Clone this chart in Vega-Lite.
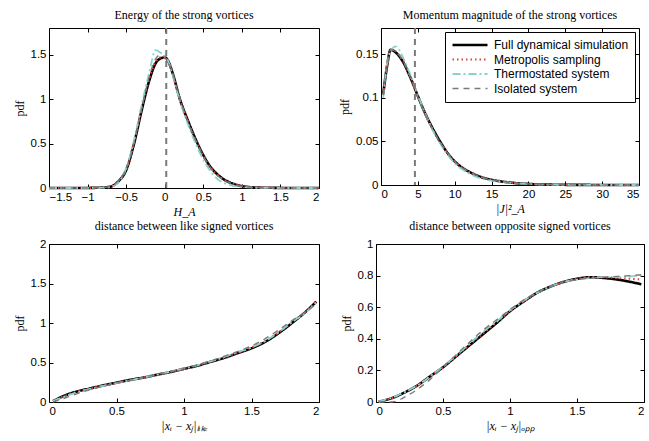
{
  "$schema": "https://vega.github.io/schema/vega-lite/v6.json",
  "padding": {"left": 12, "top": 8, "right": 2, "bottom": 2},
  "background": "white",
  "config": {
    "view": {"stroke": "black", "strokeWidth": 1},
    "axis": {"domain": false, "grid": false, "tickColor": "black", "tickSize": -4, "labelFont": "Liberation Sans", "labelFontSize": 11.5, "labelColor": "black", "labelPadding": 7, "titleFont": "Liberation Serif", "titleFontWeight": "normal", "titleFontSize": 12, "titleColor": "black", "titlePadding": 4},
    "title": {"font": "Liberation Serif", "fontSize": 12, "fontWeight": "normal", "color": "black", "offset": 5},
    "legend": {"labelFont": "Liberation Sans", "labelFontSize": 12, "labelColor": "black"}
  },
  "datasets": {
    "energy": [
      {"x": -1.5, "Full dynamical simulation": 0, "Metropolis sampling": 0, "Thermostated system": 0, "Isolated system": 0},
      {"x": -1.3, "Full dynamical simulation": 0, "Metropolis sampling": 0, "Thermostated system": 0, "Isolated system": 0},
      {"x": -1.1, "Full dynamical simulation": 0, "Metropolis sampling": 0, "Thermostated system": 0, "Isolated system": 0.001},
      {"x": -0.9, "Full dynamical simulation": 0.002, "Metropolis sampling": 0.002, "Thermostated system": 0.001, "Isolated system": 0.002},
      {"x": -0.8, "Full dynamical simulation": 0.005, "Metropolis sampling": 0.006, "Thermostated system": 0.004, "Isolated system": 0.006},
      {"x": -0.7, "Full dynamical simulation": 0.015, "Metropolis sampling": 0.018, "Thermostated system": 0.012, "Isolated system": 0.02},
      {"x": -0.6, "Full dynamical simulation": 0.075, "Metropolis sampling": 0.08, "Thermostated system": 0.065, "Isolated system": 0.08},
      {"x": -0.5, "Full dynamical simulation": 0.2, "Metropolis sampling": 0.21, "Thermostated system": 0.22, "Isolated system": 0.21},
      {"x": -0.4, "Full dynamical simulation": 0.49, "Metropolis sampling": 0.5, "Thermostated system": 0.53, "Isolated system": 0.5},
      {"x": -0.3, "Full dynamical simulation": 0.87, "Metropolis sampling": 0.88, "Thermostated system": 0.93, "Isolated system": 0.89},
      {"x": -0.2, "Full dynamical simulation": 1.21, "Metropolis sampling": 1.23, "Thermostated system": 1.3, "Isolated system": 1.25},
      {"x": -0.12, "Full dynamical simulation": 1.4, "Metropolis sampling": 1.42, "Thermostated system": 1.55, "Isolated system": 1.45},
      {"x": -0.05, "Full dynamical simulation": 1.46, "Metropolis sampling": 1.47, "Thermostated system": 1.52, "Isolated system": 1.5},
      {"x": 0, "Full dynamical simulation": 1.47, "Metropolis sampling": 1.46, "Thermostated system": 1.49, "Isolated system": 1.47},
      {"x": 0.05, "Full dynamical simulation": 1.42, "Metropolis sampling": 1.41, "Thermostated system": 1.42, "Isolated system": 1.42},
      {"x": 0.1, "Full dynamical simulation": 1.3, "Metropolis sampling": 1.29, "Thermostated system": 1.28, "Isolated system": 1.3},
      {"x": 0.2, "Full dynamical simulation": 0.99, "Metropolis sampling": 0.99, "Thermostated system": 0.97, "Isolated system": 0.99},
      {"x": 0.3, "Full dynamical simulation": 0.76, "Metropolis sampling": 0.75, "Thermostated system": 0.72, "Isolated system": 0.75},
      {"x": 0.4, "Full dynamical simulation": 0.55, "Metropolis sampling": 0.54, "Thermostated system": 0.5, "Isolated system": 0.54},
      {"x": 0.5, "Full dynamical simulation": 0.37, "Metropolis sampling": 0.36, "Thermostated system": 0.32, "Isolated system": 0.36},
      {"x": 0.6, "Full dynamical simulation": 0.23, "Metropolis sampling": 0.22, "Thermostated system": 0.18, "Isolated system": 0.22},
      {"x": 0.7, "Full dynamical simulation": 0.14, "Metropolis sampling": 0.135, "Thermostated system": 0.09, "Isolated system": 0.13},
      {"x": 0.8, "Full dynamical simulation": 0.08, "Metropolis sampling": 0.078, "Thermostated system": 0.045, "Isolated system": 0.075},
      {"x": 0.9, "Full dynamical simulation": 0.045, "Metropolis sampling": 0.043, "Thermostated system": 0.022, "Isolated system": 0.04},
      {"x": 1.0, "Full dynamical simulation": 0.022, "Metropolis sampling": 0.022, "Thermostated system": 0.012, "Isolated system": 0.02},
      {"x": 1.1, "Full dynamical simulation": 0.01, "Metropolis sampling": 0.01, "Thermostated system": 0.006, "Isolated system": 0.01},
      {"x": 1.2, "Full dynamical simulation": 0.005, "Metropolis sampling": 0.005, "Thermostated system": 0.003, "Isolated system": 0.005},
      {"x": 1.4, "Full dynamical simulation": 0.002, "Metropolis sampling": 0.002, "Thermostated system": 0.001, "Isolated system": 0.002},
      {"x": 1.6, "Full dynamical simulation": 0, "Metropolis sampling": 0, "Thermostated system": 0, "Isolated system": 0},
      {"x": 1.8, "Full dynamical simulation": 0, "Metropolis sampling": 0, "Thermostated system": 0, "Isolated system": 0},
      {"x": 2.0, "Full dynamical simulation": 0, "Metropolis sampling": 0, "Thermostated system": 0, "Isolated system": 0}
    ],
    "momentum": [
      {"x": 0.3, "Full dynamical simulation": 0.104, "Metropolis sampling": 0.104, "Thermostated system": 0.1, "Isolated system": 0.103},
      {"x": 0.8, "Full dynamical simulation": 0.135, "Metropolis sampling": 0.136, "Thermostated system": 0.138, "Isolated system": 0.134},
      {"x": 1.3, "Full dynamical simulation": 0.155, "Metropolis sampling": 0.155, "Thermostated system": 0.153, "Isolated system": 0.155},
      {"x": 2, "Full dynamical simulation": 0.152, "Metropolis sampling": 0.153, "Thermostated system": 0.159, "Isolated system": 0.153},
      {"x": 3, "Full dynamical simulation": 0.141, "Metropolis sampling": 0.142, "Thermostated system": 0.146, "Isolated system": 0.142},
      {"x": 4, "Full dynamical simulation": 0.123, "Metropolis sampling": 0.124, "Thermostated system": 0.126, "Isolated system": 0.123},
      {"x": 5, "Full dynamical simulation": 0.102, "Metropolis sampling": 0.102, "Thermostated system": 0.103, "Isolated system": 0.101},
      {"x": 6, "Full dynamical simulation": 0.082, "Metropolis sampling": 0.081, "Thermostated system": 0.082, "Isolated system": 0.081},
      {"x": 7, "Full dynamical simulation": 0.065, "Metropolis sampling": 0.064, "Thermostated system": 0.063, "Isolated system": 0.064},
      {"x": 8, "Full dynamical simulation": 0.05, "Metropolis sampling": 0.049, "Thermostated system": 0.048, "Isolated system": 0.049},
      {"x": 9, "Full dynamical simulation": 0.037, "Metropolis sampling": 0.037, "Thermostated system": 0.035, "Isolated system": 0.037},
      {"x": 10, "Full dynamical simulation": 0.027, "Metropolis sampling": 0.027, "Thermostated system": 0.025, "Isolated system": 0.027},
      {"x": 11, "Full dynamical simulation": 0.02, "Metropolis sampling": 0.02, "Thermostated system": 0.018, "Isolated system": 0.02},
      {"x": 12, "Full dynamical simulation": 0.015, "Metropolis sampling": 0.015, "Thermostated system": 0.013, "Isolated system": 0.015},
      {"x": 13, "Full dynamical simulation": 0.011, "Metropolis sampling": 0.011, "Thermostated system": 0.009, "Isolated system": 0.011},
      {"x": 14, "Full dynamical simulation": 0.008, "Metropolis sampling": 0.008, "Thermostated system": 0.0065, "Isolated system": 0.008},
      {"x": 15, "Full dynamical simulation": 0.006, "Metropolis sampling": 0.006, "Thermostated system": 0.005, "Isolated system": 0.006},
      {"x": 16, "Full dynamical simulation": 0.0045, "Metropolis sampling": 0.0045, "Thermostated system": 0.004, "Isolated system": 0.0045},
      {"x": 17, "Full dynamical simulation": 0.0033, "Metropolis sampling": 0.0033, "Thermostated system": 0.003, "Isolated system": 0.0033},
      {"x": 18, "Full dynamical simulation": 0.0024, "Metropolis sampling": 0.0024, "Thermostated system": 0.0022, "Isolated system": 0.0024},
      {"x": 20, "Full dynamical simulation": 0.0012, "Metropolis sampling": 0.0012, "Thermostated system": 0.0011, "Isolated system": 0.0012},
      {"x": 22, "Full dynamical simulation": 0.0006, "Metropolis sampling": 0.0006, "Thermostated system": 0.0005, "Isolated system": 0.0006},
      {"x": 25, "Full dynamical simulation": 0.0002, "Metropolis sampling": 0.0002, "Thermostated system": 0.0002, "Isolated system": 0.0002},
      {"x": 28, "Full dynamical simulation": 0.0001, "Metropolis sampling": 0.0001, "Thermostated system": 0.0001, "Isolated system": 0.0001},
      {"x": 31, "Full dynamical simulation": 0, "Metropolis sampling": 0, "Thermostated system": 0, "Isolated system": 0},
      {"x": 35, "Full dynamical simulation": 0, "Metropolis sampling": 0, "Thermostated system": 0, "Isolated system": 0}
    ],
    "like": [
      {"x": 0.03, "Full dynamical simulation": 0.01, "Metropolis sampling": 0.01, "Thermostated system": 0.015, "Isolated system": 0},
      {"x": 0.1, "Full dynamical simulation": 0.07, "Metropolis sampling": 0.065, "Thermostated system": 0.06, "Isolated system": 0.04},
      {"x": 0.2, "Full dynamical simulation": 0.13, "Metropolis sampling": 0.125, "Thermostated system": 0.12, "Isolated system": 0.1},
      {"x": 0.3, "Full dynamical simulation": 0.17, "Metropolis sampling": 0.165, "Thermostated system": 0.165, "Isolated system": 0.155},
      {"x": 0.4, "Full dynamical simulation": 0.21, "Metropolis sampling": 0.205, "Thermostated system": 0.205, "Isolated system": 0.2},
      {"x": 0.5, "Full dynamical simulation": 0.245, "Metropolis sampling": 0.24, "Thermostated system": 0.24, "Isolated system": 0.24},
      {"x": 0.6, "Full dynamical simulation": 0.28, "Metropolis sampling": 0.275, "Thermostated system": 0.275, "Isolated system": 0.275},
      {"x": 0.7, "Full dynamical simulation": 0.31, "Metropolis sampling": 0.31, "Thermostated system": 0.31, "Isolated system": 0.31},
      {"x": 0.8, "Full dynamical simulation": 0.345, "Metropolis sampling": 0.345, "Thermostated system": 0.345, "Isolated system": 0.35},
      {"x": 0.9, "Full dynamical simulation": 0.38, "Metropolis sampling": 0.38, "Thermostated system": 0.385, "Isolated system": 0.385},
      {"x": 1.0, "Full dynamical simulation": 0.42, "Metropolis sampling": 0.42, "Thermostated system": 0.425, "Isolated system": 0.425},
      {"x": 1.1, "Full dynamical simulation": 0.46, "Metropolis sampling": 0.465, "Thermostated system": 0.465, "Isolated system": 0.47},
      {"x": 1.2, "Full dynamical simulation": 0.51, "Metropolis sampling": 0.515, "Thermostated system": 0.515, "Isolated system": 0.52},
      {"x": 1.3, "Full dynamical simulation": 0.56, "Metropolis sampling": 0.565, "Thermostated system": 0.57, "Isolated system": 0.58},
      {"x": 1.4, "Full dynamical simulation": 0.62, "Metropolis sampling": 0.625, "Thermostated system": 0.63, "Isolated system": 0.64},
      {"x": 1.5, "Full dynamical simulation": 0.68, "Metropolis sampling": 0.69, "Thermostated system": 0.69, "Isolated system": 0.71},
      {"x": 1.6, "Full dynamical simulation": 0.76, "Metropolis sampling": 0.77, "Thermostated system": 0.77, "Isolated system": 0.8},
      {"x": 1.7, "Full dynamical simulation": 0.87, "Metropolis sampling": 0.88, "Thermostated system": 0.88, "Isolated system": 0.91},
      {"x": 1.8, "Full dynamical simulation": 1.0, "Metropolis sampling": 1.01, "Thermostated system": 1.01, "Isolated system": 1.03},
      {"x": 1.9, "Full dynamical simulation": 1.14, "Metropolis sampling": 1.14, "Thermostated system": 1.13, "Isolated system": 1.14},
      {"x": 1.98, "Full dynamical simulation": 1.27, "Metropolis sampling": 1.27, "Thermostated system": 1.26, "Isolated system": 1.24}
    ],
    "opp": [
      {"x": 0.02, "Full dynamical simulation": 0.002, "Metropolis sampling": 0.002, "Thermostated system": 0.003, "Isolated system": 0},
      {"x": 0.1, "Full dynamical simulation": 0.02, "Metropolis sampling": 0.02, "Thermostated system": 0.022, "Isolated system": 0},
      {"x": 0.15, "Full dynamical simulation": 0.035, "Metropolis sampling": 0.035, "Thermostated system": 0.037, "Isolated system": 0.005},
      {"x": 0.2, "Full dynamical simulation": 0.055, "Metropolis sampling": 0.055, "Thermostated system": 0.057, "Isolated system": 0.025},
      {"x": 0.3, "Full dynamical simulation": 0.1, "Metropolis sampling": 0.1, "Thermostated system": 0.1, "Isolated system": 0.075},
      {"x": 0.4, "Full dynamical simulation": 0.16, "Metropolis sampling": 0.16, "Thermostated system": 0.16, "Isolated system": 0.14},
      {"x": 0.5, "Full dynamical simulation": 0.22, "Metropolis sampling": 0.22, "Thermostated system": 0.225, "Isolated system": 0.22},
      {"x": 0.6, "Full dynamical simulation": 0.29, "Metropolis sampling": 0.29, "Thermostated system": 0.295, "Isolated system": 0.3},
      {"x": 0.7, "Full dynamical simulation": 0.36, "Metropolis sampling": 0.365, "Thermostated system": 0.37, "Isolated system": 0.38},
      {"x": 0.8, "Full dynamical simulation": 0.43, "Metropolis sampling": 0.435, "Thermostated system": 0.445, "Isolated system": 0.455},
      {"x": 0.9, "Full dynamical simulation": 0.5, "Metropolis sampling": 0.505, "Thermostated system": 0.51, "Isolated system": 0.52},
      {"x": 1.0, "Full dynamical simulation": 0.575, "Metropolis sampling": 0.575, "Thermostated system": 0.58, "Isolated system": 0.585},
      {"x": 1.1, "Full dynamical simulation": 0.635, "Metropolis sampling": 0.635, "Thermostated system": 0.64, "Isolated system": 0.645},
      {"x": 1.2, "Full dynamical simulation": 0.69, "Metropolis sampling": 0.69, "Thermostated system": 0.69, "Isolated system": 0.69},
      {"x": 1.3, "Full dynamical simulation": 0.73, "Metropolis sampling": 0.73, "Thermostated system": 0.73, "Isolated system": 0.73},
      {"x": 1.4, "Full dynamical simulation": 0.76, "Metropolis sampling": 0.76, "Thermostated system": 0.76, "Isolated system": 0.76},
      {"x": 1.5, "Full dynamical simulation": 0.78, "Metropolis sampling": 0.78, "Thermostated system": 0.775, "Isolated system": 0.775},
      {"x": 1.6, "Full dynamical simulation": 0.79, "Metropolis sampling": 0.79, "Thermostated system": 0.785, "Isolated system": 0.785},
      {"x": 1.7, "Full dynamical simulation": 0.785, "Metropolis sampling": 0.79, "Thermostated system": 0.79, "Isolated system": 0.79},
      {"x": 1.8, "Full dynamical simulation": 0.775, "Metropolis sampling": 0.785, "Thermostated system": 0.79, "Isolated system": 0.795},
      {"x": 1.9, "Full dynamical simulation": 0.76, "Metropolis sampling": 0.78, "Thermostated system": 0.795, "Isolated system": 0.8},
      {"x": 1.98, "Full dynamical simulation": 0.745, "Metropolis sampling": 0.775, "Thermostated system": 0.8, "Isolated system": 0.805}
    ]
  },
  "resolve": {"scale": {"x": "independent", "y": "independent"}, "legend": {"color": "independent", "strokeDash": "independent", "strokeWidth": "independent"}},
  "spacing": 1,
  "vconcat": [
    {
      "spacing": 13,
      "resolve": {"scale": {"x": "independent", "y": "independent"}, "legend": {"color": "independent", "strokeDash": "independent", "strokeWidth": "independent"}},
      "hconcat": [
        {
          "width": 270, "height": 160,
          "title": "Energy of the strong vortices",
          "data": {"name": "energy"},
          "transform": [{"fold": ["Full dynamical simulation", "Metropolis sampling", "Thermostated system", "Isolated system"], "as": ["s", "y"]}],
          "resolve": {"axis": {"x": "independent", "y": "independent"}},
          "layer": [
            {
              "mark": {"type": "line", "interpolate": "monotone"},
              "encoding": {
                "x": {"field": "x", "type": "quantitative", "scale": {"domain": [-1.5, 2], "nice": false, "zero": false}, "axis": {"values": [-1.5, -1, -0.5, 0, 0.5, 1, 1.5, 2], "format": "~g", "title": "H_A", "titleFontStyle": "italic"}},
                "y": {"field": "y", "type": "quantitative", "scale": {"domain": [0, 1.8], "nice": false}, "axis": {"values": [0, 0.5, 1, 1.5], "format": "~g", "title": "pdf"}},
                "color": {"field": "s", "type": "nominal", "scale": {"domain": ["Full dynamical simulation", "Metropolis sampling", "Thermostated system", "Isolated system"], "range": ["#000000", "#e0433b", "#86d3cf", "#7a7a7a"]}, "legend": null},
                "strokeDash": {"field": "s", "type": "nominal", "scale": {"domain": ["Full dynamical simulation", "Metropolis sampling", "Thermostated system", "Isolated system"], "range": [[1, 0], [1.5, 3], [8, 3, 2, 3], [6, 5]]}, "legend": null},
                "strokeWidth": {"field": "s", "type": "ordinal", "scale": {"domain": ["Full dynamical simulation", "Metropolis sampling", "Thermostated system", "Isolated system"], "range": [2.6, 1.4, 1.6, 1.8]}, "legend": null}
              }
            },
            {
              "data": {"values": [{"x": 0.02}]},
              "mark": {"type": "rule", "color": "#7a7a7a", "strokeDash": [6, 5], "strokeWidth": 2},
              "encoding": {"x": {"field": "x", "type": "quantitative", "axis": null}}
            },
            {
              "mark": {"type": "line", "opacity": 0},
              "encoding": {
                "x": {"field": "x", "type": "quantitative", "axis": {"orient": "top", "labels": false, "title": null, "values": [-1.5, -1, -0.5, 0, 0.5, 1, 1.5, 2]}},
                "y": {"field": "y", "type": "quantitative", "axis": {"orient": "right", "labels": false, "title": null, "values": [0, 0.5, 1, 1.5]}}
              }
            }
          ]
        },
        {
          "width": 258, "height": 157,
          "title": "Momentum magnitude of the strong vortices",
          "data": {"name": "momentum"},
          "transform": [{"fold": ["Full dynamical simulation", "Metropolis sampling", "Thermostated system", "Isolated system"], "as": ["s", "y"]}],
          "resolve": {"axis": {"x": "independent", "y": "independent"}},
          "layer": [
            {
              "mark": {"type": "line", "interpolate": "monotone"},
              "encoding": {
                "x": {"field": "x", "type": "quantitative", "scale": {"domain": [0, 35], "nice": false, "zero": false}, "axis": {"values": [0, 5, 10, 15, 20, 25, 30, 35], "format": "~g", "title": "|J|²_A", "titleFontStyle": "italic"}},
                "y": {"field": "y", "type": "quantitative", "scale": {"domain": [0, 0.18], "nice": false}, "axis": {"values": [0, 0.05, 0.1, 0.15], "format": "~g", "title": "pdf"}},
                "color": {"field": "s", "type": "nominal", "scale": {"domain": ["Full dynamical simulation", "Metropolis sampling", "Thermostated system", "Isolated system"], "range": ["#000000", "#e0433b", "#86d3cf", "#7a7a7a"]}, "legend": {"title": null, "orient": "top-right", "offset": 4, "strokeColor": "black", "fillColor": "white", "padding": 6, "symbolType": "stroke", "symbolSize": 1225, "clipHeight": 14, "rowPadding": 0.5, "labelFontSize": 12, "labelOffset": 5}},
                "strokeDash": {"field": "s", "type": "nominal", "scale": {"domain": ["Full dynamical simulation", "Metropolis sampling", "Thermostated system", "Isolated system"], "range": [[1, 0], [1.5, 3], [8, 3, 2, 3], [6, 5]]}, "legend": {"title": null, "orient": "top-right", "offset": 4, "strokeColor": "black", "fillColor": "white", "padding": 6, "symbolType": "stroke", "symbolSize": 1225, "clipHeight": 14, "rowPadding": 0.5, "labelFontSize": 12, "labelOffset": 5}},
                "strokeWidth": {"field": "s", "type": "ordinal", "scale": {"domain": ["Full dynamical simulation", "Metropolis sampling", "Thermostated system", "Isolated system"], "range": [2.6, 1.4, 1.6, 1.8]}, "legend": {"title": null, "orient": "top-right", "offset": 4, "strokeColor": "black", "fillColor": "white", "padding": 6, "symbolType": "stroke", "symbolSize": 1225, "clipHeight": 14, "rowPadding": 0.5, "labelFontSize": 12, "labelOffset": 5}}
              }
            },
            {
              "data": {"values": [{"x": 4.6}]},
              "mark": {"type": "rule", "color": "#7a7a7a", "strokeDash": [6, 5], "strokeWidth": 2},
              "encoding": {"x": {"field": "x", "type": "quantitative", "axis": null}}
            },
            {
              "mark": {"type": "line", "opacity": 0},
              "encoding": {
                "x": {"field": "x", "type": "quantitative", "axis": {"orient": "top", "labels": false, "title": null, "values": [0, 5, 10, 15, 20, 25, 30, 35]}},
                "y": {"field": "y", "type": "quantitative", "axis": {"orient": "right", "labels": false, "title": null, "values": [0, 0.05, 0.1, 0.15]}}
              }
            }
          ]
        }
      ]
    },
    {
      "spacing": 17,
      "resolve": {"scale": {"x": "independent", "y": "independent"}, "legend": {"color": "independent", "strokeDash": "independent", "strokeWidth": "independent"}},
      "hconcat": [
        {
          "width": 270, "height": 158,
          "title": "distance between like signed vortices",
          "data": {"name": "like"},
          "transform": [{"fold": ["Full dynamical simulation", "Metropolis sampling", "Thermostated system", "Isolated system"], "as": ["s", "y"]}],
          "resolve": {"axis": {"x": "independent", "y": "independent"}},
          "layer": [
            {
              "mark": {"type": "line", "interpolate": "monotone"},
              "encoding": {
                "x": {"field": "x", "type": "quantitative", "scale": {"domain": [0, 2], "nice": false, "zero": false}, "axis": {"values": [0, 0.5, 1, 1.5, 2], "format": "~g", "title": "|xᵢ − xⱼ|ₗᵢₖₑ", "titleFontStyle": "italic"}},
                "y": {"field": "y", "type": "quantitative", "scale": {"domain": [0, 2], "nice": false}, "axis": {"values": [0, 0.5, 1, 1.5, 2], "format": "~g", "title": "pdf"}},
                "color": {"field": "s", "type": "nominal", "scale": {"domain": ["Full dynamical simulation", "Metropolis sampling", "Thermostated system", "Isolated system"], "range": ["#000000", "#e0433b", "#86d3cf", "#7a7a7a"]}, "legend": null},
                "strokeDash": {"field": "s", "type": "nominal", "scale": {"domain": ["Full dynamical simulation", "Metropolis sampling", "Thermostated system", "Isolated system"], "range": [[1, 0], [1.5, 3], [8, 3, 2, 3], [6, 5]]}, "legend": null},
                "strokeWidth": {"field": "s", "type": "ordinal", "scale": {"domain": ["Full dynamical simulation", "Metropolis sampling", "Thermostated system", "Isolated system"], "range": [2.6, 1.4, 1.6, 1.8]}, "legend": null}
              }
            },
            {
              "mark": {"type": "line", "opacity": 0},
              "encoding": {
                "x": {"field": "x", "type": "quantitative", "axis": {"orient": "top", "labels": false, "title": null, "values": [0, 0.5, 1, 1.5, 2]}},
                "y": {"field": "y", "type": "quantitative", "axis": {"orient": "right", "labels": false, "title": null, "values": [0, 0.5, 1, 1.5, 2]}}
              }
            }
          ]
        },
        {
          "width": 268, "height": 158,
          "title": "distance between opposite signed vortices",
          "data": {"name": "opp"},
          "transform": [{"fold": ["Full dynamical simulation", "Metropolis sampling", "Thermostated system", "Isolated system"], "as": ["s", "y"]}],
          "resolve": {"axis": {"x": "independent", "y": "independent"}},
          "layer": [
            {
              "mark": {"type": "line", "interpolate": "monotone"},
              "encoding": {
                "x": {"field": "x", "type": "quantitative", "scale": {"domain": [0, 2], "nice": false, "zero": false}, "axis": {"values": [0, 0.5, 1, 1.5, 2], "format": "~g", "title": "|xᵢ − xⱼ|ₒₚₚ", "titleFontStyle": "italic"}},
                "y": {"field": "y", "type": "quantitative", "scale": {"domain": [0, 1], "nice": false}, "axis": {"values": [0, 0.2, 0.4, 0.6, 0.8, 1], "format": "~g", "title": "pdf"}},
                "color": {"field": "s", "type": "nominal", "scale": {"domain": ["Full dynamical simulation", "Metropolis sampling", "Thermostated system", "Isolated system"], "range": ["#000000", "#e0433b", "#86d3cf", "#7a7a7a"]}, "legend": null},
                "strokeDash": {"field": "s", "type": "nominal", "scale": {"domain": ["Full dynamical simulation", "Metropolis sampling", "Thermostated system", "Isolated system"], "range": [[1, 0], [1.5, 3], [8, 3, 2, 3], [6, 5]]}, "legend": null},
                "strokeWidth": {"field": "s", "type": "ordinal", "scale": {"domain": ["Full dynamical simulation", "Metropolis sampling", "Thermostated system", "Isolated system"], "range": [2.6, 1.4, 1.6, 1.8]}, "legend": null}
              }
            },
            {
              "mark": {"type": "line", "opacity": 0},
              "encoding": {
                "x": {"field": "x", "type": "quantitative", "axis": {"orient": "top", "labels": false, "title": null, "values": [0, 0.5, 1, 1.5, 2]}},
                "y": {"field": "y", "type": "quantitative", "axis": {"orient": "right", "labels": false, "title": null, "values": [0, 0.2, 0.4, 0.6, 0.8, 1]}}
              }
            }
          ]
        }
      ]
    }
  ]
}
